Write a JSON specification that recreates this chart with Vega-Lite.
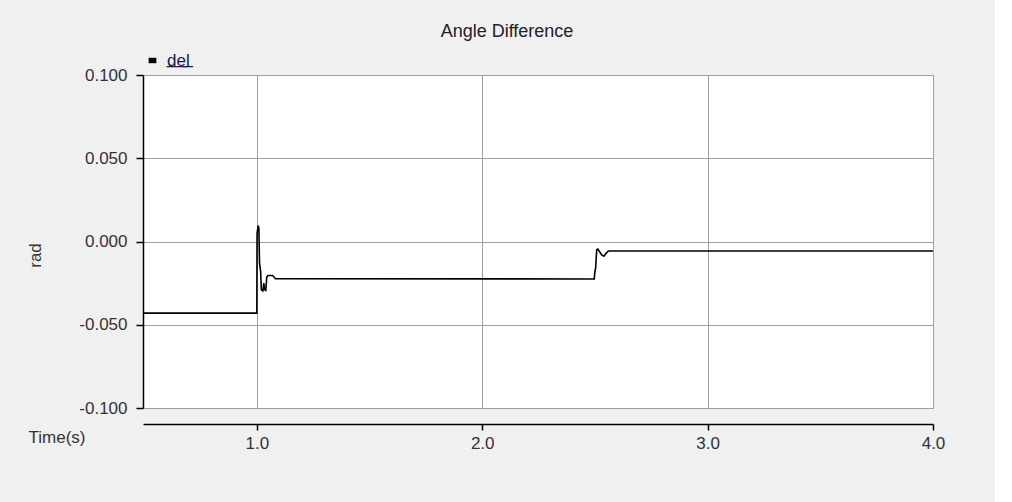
{
  "$schema": "https://vega.github.io/schema/vega-lite/v6.json",
  "autosize": {"type": "none"},
  "width": 790,
  "height": 333,
  "padding": {"left": 143, "top": 75, "right": 62, "bottom": 94},
  "background": "#f0f0f0",
  "title": {
    "text": "Angle Difference",
    "anchor": "middle",
    "frame": "group",
    "dx": -31,
    "offset": 11,
    "font": "Liberation Sans",
    "fontSize": 18,
    "fontWeight": "normal",
    "color": "#222222"
  },
  "data": {
    "values": [
      {"t": 0.495, "v": -0.0430, "series": "del"},
      {"t": 1.000, "v": -0.0430, "series": "del"},
      {"t": 1.001, "v": 0.0048, "series": "del"},
      {"t": 1.006, "v": 0.0096, "series": "del"},
      {"t": 1.009, "v": 0.0080, "series": "del"},
      {"t": 1.012, "v": -0.0132, "series": "del"},
      {"t": 1.017, "v": -0.0180, "series": "del"},
      {"t": 1.020, "v": -0.0290, "series": "del"},
      {"t": 1.027, "v": -0.0296, "series": "del"},
      {"t": 1.031, "v": -0.0250, "series": "del"},
      {"t": 1.035, "v": -0.0290, "series": "del"},
      {"t": 1.040, "v": -0.0294, "series": "del"},
      {"t": 1.044, "v": -0.0214, "series": "del"},
      {"t": 1.050, "v": -0.0204, "series": "del"},
      {"t": 1.070, "v": -0.0204, "series": "del"},
      {"t": 1.083, "v": -0.0224, "series": "del"},
      {"t": 2.497, "v": -0.0225, "series": "del"},
      {"t": 2.500, "v": -0.0180, "series": "del"},
      {"t": 2.503, "v": -0.0162, "series": "del"},
      {"t": 2.508, "v": -0.0050, "series": "del"},
      {"t": 2.513, "v": -0.0046, "series": "del"},
      {"t": 2.520, "v": -0.0060, "series": "del"},
      {"t": 2.530, "v": -0.0080, "series": "del"},
      {"t": 2.540, "v": -0.0088, "series": "del"},
      {"t": 2.550, "v": -0.0070, "series": "del"},
      {"t": 2.560, "v": -0.0057, "series": "del"},
      {"t": 4.000, "v": -0.0057, "series": "del"}
    ]
  },
  "mark": {"type": "line", "strokeWidth": 1.6, "clip": true},
  "encoding": {
    "x": {
      "field": "t",
      "type": "quantitative",
      "scale": {"domain": [0.495, 4.0], "nice": false, "zero": false},
      "axis": {
        "title": "Time(s)",
        "values": [1, 2, 3, 4],
        "format": ".1f",
        "offset": 16,
        "domainColor": "black",
        "domainWidth": 1.5,
        "tickColor": "black",
        "tickWidth": 1.5,
        "tickSize": 6,
        "labelPadding": 5,
        "labelFontSize": 17,
        "labelColor": "#333333",
        "labelFont": "Liberation Sans",
        "labelFlush": false,
        "grid": true,
        "gridColor": "#a0a0a0",
        "gridWidth": 1,
        "titleX": -115,
        "titleY": 13,
        "titleAlign": "left",
        "titleAnchor": null,
        "titleBaseline": "middle",
        "titleFontSize": 17,
        "titleFontWeight": "normal",
        "titleFont": "Liberation Sans",
        "titleColor": "#333333"
      }
    },
    "y": {
      "field": "v",
      "type": "quantitative",
      "scale": {"domain": [-0.1, 0.1], "nice": false},
      "axis": {
        "title": "rad",
        "values": [-0.1, -0.05, 0, 0.05, 0.1],
        "labelExpr": "replace(format(datum.value, '.3f'), '\u2212', '-')",
        "domainColor": "black",
        "domainWidth": 1.5,
        "tickColor": "black",
        "tickWidth": 1.5,
        "tickSize": 7,
        "labelPadding": 9,
        "labelFontSize": 17,
        "labelColor": "#333333",
        "labelFont": "Liberation Sans",
        "labelFlush": false,
        "grid": true,
        "gridColor": "#a0a0a0",
        "gridWidth": 1,
        "titleAngle": 270,
        "titleX": -108,
        "titleY": 180,
        "titleAlign": "center",
        "titleAnchor": null,
        "titleBaseline": "middle",
        "titleFontSize": 17,
        "titleFontWeight": "normal",
        "titleFont": "Liberation Sans",
        "titleColor": "#333333"
      }
    },
    "color": {
      "field": "series",
      "type": "nominal",
      "scale": {"range": ["black"]},
      "legend": {
        "title": null,
        "orient": "none",
        "legendX": 1,
        "legendY": -23,
        "padding": 0,
        "symbolType": "M-1,-0.7H1V0.7H-1Z",
        "symbolSize": 60,
        "symbolFillColor": "black",
        "symbolStrokeWidth": 0,
        "labelFontSize": 17,
        "labelFont": "Liberation Sans",
        "labelColor": "#1a1a40",
        "labelOffset": 6,
        "labelExpr": "'d\u0332e\u0332l\u0332'"
      }
    }
  },
  "config": {
    "view": {"stroke": "#a0a0a0", "strokeWidth": 1, "fill": "white"}
  }
}
